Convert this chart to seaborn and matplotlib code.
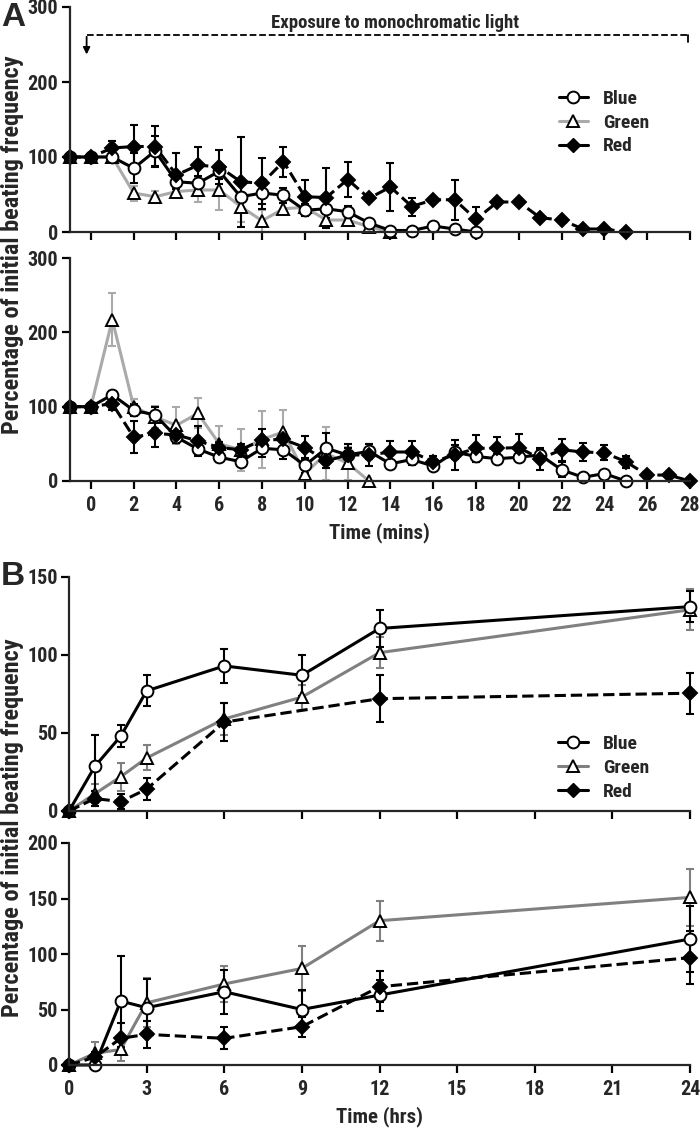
import numpy as np
import pandas as pd
import seaborn as sns
import matplotlib.pyplot as plt
from matplotlib.lines import Line2D

# ---- data ----
# Panel A, top (minutes)
a1_blue_x = list(range(-1, 19))
a1_blue = [100, 100, 100, 85, 108, 67, 65, 81, 47, 52, 49, 29, 31, 27, 12, 2, 2, 8, 4, 0]
a1_blue_err = [0, 0, 5, 20, 20, 10, 10, 10, 20, 15, 10, 8, 12, 8, 4, 2, 2, 3, 2, 0]
a1_green_x = list(range(-1, 15))
a1_green = [100, 100, 100, 52, 47, 54, 56, 56, 34, 15, 31, 33, 16, 16, 7, 0]
a1_green_err = [0, 0, 0, 10, 8, 8, 16, 27, 20, 15, 8, 10, 10, 5, 3, 0]
a1_red_x = list(range(-1, 26))
a1_red = [100, 100, 112, 114, 114, 76, 89, 87, 67, 65, 94, 47, 46, 70, 45, 60, 34, 43, 43, 17,
          40, 40, 19, 16, 4, 4, 0]
a1_red_err = [0, 0, 9, 29, 27, 29, 25, 23, 60, 34, 20, 23, 40, 23, 0, 32, 12, 0, 27, 16,
              0, 0, 0, 0, 0, 0, 0]

# Panel A, bottom (minutes)
a2_blue_x = list(range(-1, 26))
a2_blue = [100, 100, 116, 95, 89, 59, 43, 32, 26, 44, 42, 21, 44, 35, 40, 23, 29, 20, 39, 33,
           30, 32, 35, 15, 5, 10, 0]
a2_blue_err = [0, 0, 5, 8, 10, 8, 8, 6, 5, 12, 12, 10, 20, 10, 10, 5, 8, 5, 10, 8,
               6, 6, 8, 10, 3, 3, 0]
a2_green_x = list(range(-1, 14))
a2_green = [100, 100, 217, 100, 86, 75, 91, 50, 42, 56, 66, 10, 37, 24, 0]
a2_green_err = [0, 0, 36, 10, 15, 25, 20, 24, 28, 38, 30, 10, 35, 22, 0]
a2_red_x = list(range(-1, 29))
a2_red = [100, 100, 104, 59, 64, 62, 54, 45, 42, 55, 56, 45, 27, 35, 35, 39, 39, 26, 35, 44,
          44, 45, 30, 42, 39, 38, 26, 8, 8, 0]
a2_red_err = [0, 0, 8, 22, 18, 8, 20, 8, 8, 15, 10, 15, 10, 15, 15, 15, 15, 8, 20, 18,
              15, 18, 15, 15, 12, 10, 8, 0, 0, 0]

# Panel B, top (hours)
b_x = [0, 1, 2, 3, 6, 9, 12, 24]
b1_blue = [0, 28.6, 48, 77, 93, 87, 117, 131]
b1_blue_err = [0, 20, 7, 10, 11, 13, 12, 10]
b1_green = [0, 11, 22, 34, 59, 73, 101.5, 129]
b1_green_err = [0, 6, 9, 8, 10, 8, 10, 13]
b1_red_x = [0, 1, 2, 3, 6, 12, 24]
b1_red = [0, 8, 6, 14, 57, 72, 75.5]
b1_red_err = [0, 5, 5, 7, 12, 15, 13]

# Panel B, bottom (hours)
b2_blue = [0, 0, 57.6, 51.6, 66, 50, 63, 113.5]
b2_blue_err = [0, 3, 41, 26, 20, 18, 14, 30]
b2_green = [0, 10.5, 14, 56, 73, 87, 130, 151]
b2_green_err = [0, 10, 10, 22, 16, 20, 18, 26]
b2_red = [0, 7, 24, 27.6, 24, 34.5, 70.5, 96.7]
b2_red_err = [0, 5, 14, 12, 10, 9, 14, 24]

sns.set_theme(style="ticks")
plt.rcParams['font.family'] = ['Liberation Sans Narrow', 'Roboto Condensed', 'DejaVu Sans']
plt.rcParams['font.weight'] = 'bold'
plt.rcParams['axes.linewidth'] = 1.6

LIGHT = '#aaaaaa'
MID = '#808080'

fig = plt.figure(figsize=(7, 11.28), dpi=100)
W, H = 700, 1128


def add_ax(x0, x1, ytop, ybot):
    return fig.add_axes([x0 / W, 1 - ybot / H, (x1 - x0) / W, (ybot - ytop) / H])


def series(ax, x, y, err, kind, gcol):
    x = np.array(x, float)
    y = np.array(y, float)
    err = np.array(err, float)
    if kind == 'blue':
        col, mk, mfc, ls = 'black', 'o', 'white', '-'
    elif kind == 'green':
        col, mk, mfc, ls = gcol, '^', 'white', '-'
    else:
        col, mk, mfc, ls = 'black', 'D', 'black', '--'
    m = err > 0
    ax.errorbar(x[m], y[m], yerr=err[m], fmt='none', ecolor=col, elinewidth=1.5,
                capsize=3, capthick=1.5, zorder=1.5, clip_on=False)
    df = pd.DataFrame({'x': x, 'y': y})
    sns.lineplot(data=df, x='x', y='y', ax=ax, color=col, lw=2.2, linestyle=ls,
                 marker=mk, markersize=8.5 if mk != 'D' else 7, markerfacecolor=mfc,
                 markeredgecolor='black', markeredgewidth=1.4, clip_on=False,
                 errorbar=None, zorder=2 if kind != 'red' else 2.2)


def style(ax, xlim, xticks, ylim, yticks, labels=True):
    ax.set_xlim(*xlim)
    ax.set_ylim(*ylim)
    ax.set_xticks(xticks)
    ax.set_yticks(yticks)
    sns.despine(ax=ax)
    ax.tick_params(axis='both', direction='out', length=6, width=1.6, labelsize=14.5,
                   color='black')
    ax.tick_params(axis='x', pad=5)
    ax.tick_params(axis='y', pad=2)
    ax.set_xlabel('')
    ax.set_ylabel('')
    if not labels:
        ax.set_xticklabels([])
    for t in ax.get_xticklabels() + ax.get_yticklabels():
        t.set_fontweight('bold')


def legend(ax, gcol, anchor):
    hs = [Line2D([], [], color='black', lw=2.2, marker='o', markersize=8.5,
                 markerfacecolor='white', markeredgecolor='black', markeredgewidth=1.4),
          Line2D([], [], color=gcol, lw=2.2, marker='^', markersize=8.5,
                 markerfacecolor='white', markeredgecolor='black', markeredgewidth=1.4),
          Line2D([], [], color='black', lw=2.2, marker='D', markersize=7,
                 markerfacecolor='black', markeredgecolor='black')]
    ax.legend(hs, ['Blue', 'Green', 'Red'], loc='upper left', bbox_to_anchor=anchor,
              frameon=False, handlelength=1.5, handletextpad=0.8, labelspacing=0.3,
              prop={'size': 14, 'weight': 'bold'})


# Panel A top
ax1 = add_ax(69.5, 690, 7, 232)
series(ax1, a1_green_x, a1_green, a1_green_err, 'green', LIGHT)
series(ax1, a1_blue_x, a1_blue, a1_blue_err, 'blue', LIGHT)
series(ax1, a1_red_x, a1_red, a1_red_err, 'red', LIGHT)
style(ax1, (-1, 28), range(0, 29, 2), (0, 300), [0, 100, 200, 300], labels=False)
legend(ax1, LIGHT, (0.76, 0.71))
ax1.plot([-0.2, 27.9], [263, 263], ls='--', color='black', lw=1.3, clip_on=False)
ax1.plot([27.9, 27.9], [263, 254], color='black', lw=1.3, clip_on=False)
ax1.annotate('', xy=(-0.2, 233), xytext=(-0.2, 264),
             arrowprops=dict(arrowstyle='-|>', color='black', lw=1.3, mutation_scale=10))
ax1.text(14.2, 278, 'Exposure to monochromatic light', ha='center', va='center',
         fontsize=13.5, fontweight='bold')

# Panel A bottom
ax2 = add_ax(69.5, 690, 258, 481)
series(ax2, a2_green_x, a2_green, a2_green_err, 'green', LIGHT)
series(ax2, a2_blue_x, a2_blue, a2_blue_err, 'blue', LIGHT)
series(ax2, a2_red_x, a2_red, a2_red_err, 'red', LIGHT)
style(ax2, (-1, 28), range(0, 29, 2), (0, 300), [0, 100, 200, 300])
ax2.set_xlabel('Time (mins)', fontsize=15, fontweight='bold', labelpad=5)

# Panel B top
ax3 = add_ax(69, 690, 577, 811)
series(ax3, b_x, b1_green, b1_green_err, 'green', MID)
series(ax3, b_x, b1_blue, b1_blue_err, 'blue', MID)
series(ax3, b1_red_x, b1_red, b1_red_err, 'red', MID)
style(ax3, (0, 24), range(0, 25, 3), (0, 150), [0, 50, 100, 150], labels=False)
legend(ax3, MID, (0.76, 0.40))

# Panel B bottom
ax4 = add_ax(69, 690, 843, 1065)
series(ax4, b_x, b2_green, b2_green_err, 'green', MID)
series(ax4, b_x, b2_blue, b2_blue_err, 'blue', MID)
series(ax4, b_x, b2_red, b2_red_err, 'red', MID)
style(ax4, (0, 24), range(0, 25, 3), (0, 200), [0, 50, 100, 150, 200])
ax4.set_xlabel('Time (hrs)', fontsize=15, fontweight='bold', labelpad=5)

ylab = 'Percentage of initial beating frequency'
fig.text(13 / W, 1 - 245 / H, ylab, rotation=90, ha='center', va='center',
         fontsize=17.5, fontweight='bold')
fig.text(13 / W, 1 - 828 / H, ylab, rotation=90, ha='center', va='center',
         fontsize=17.5, fontweight='bold')
fig.text(1 / W, 1 - 17 / H, 'A', fontsize=24, fontweight='bold', va='center',
         family=['Liberation Sans', 'DejaVu Sans'])
fig.text(1 / W, 1 - 577 / H, 'B', fontsize=24, fontweight='bold', va='center',
         family=['Liberation Sans', 'DejaVu Sans'])

fig.savefig('out.png', dpi=100)
